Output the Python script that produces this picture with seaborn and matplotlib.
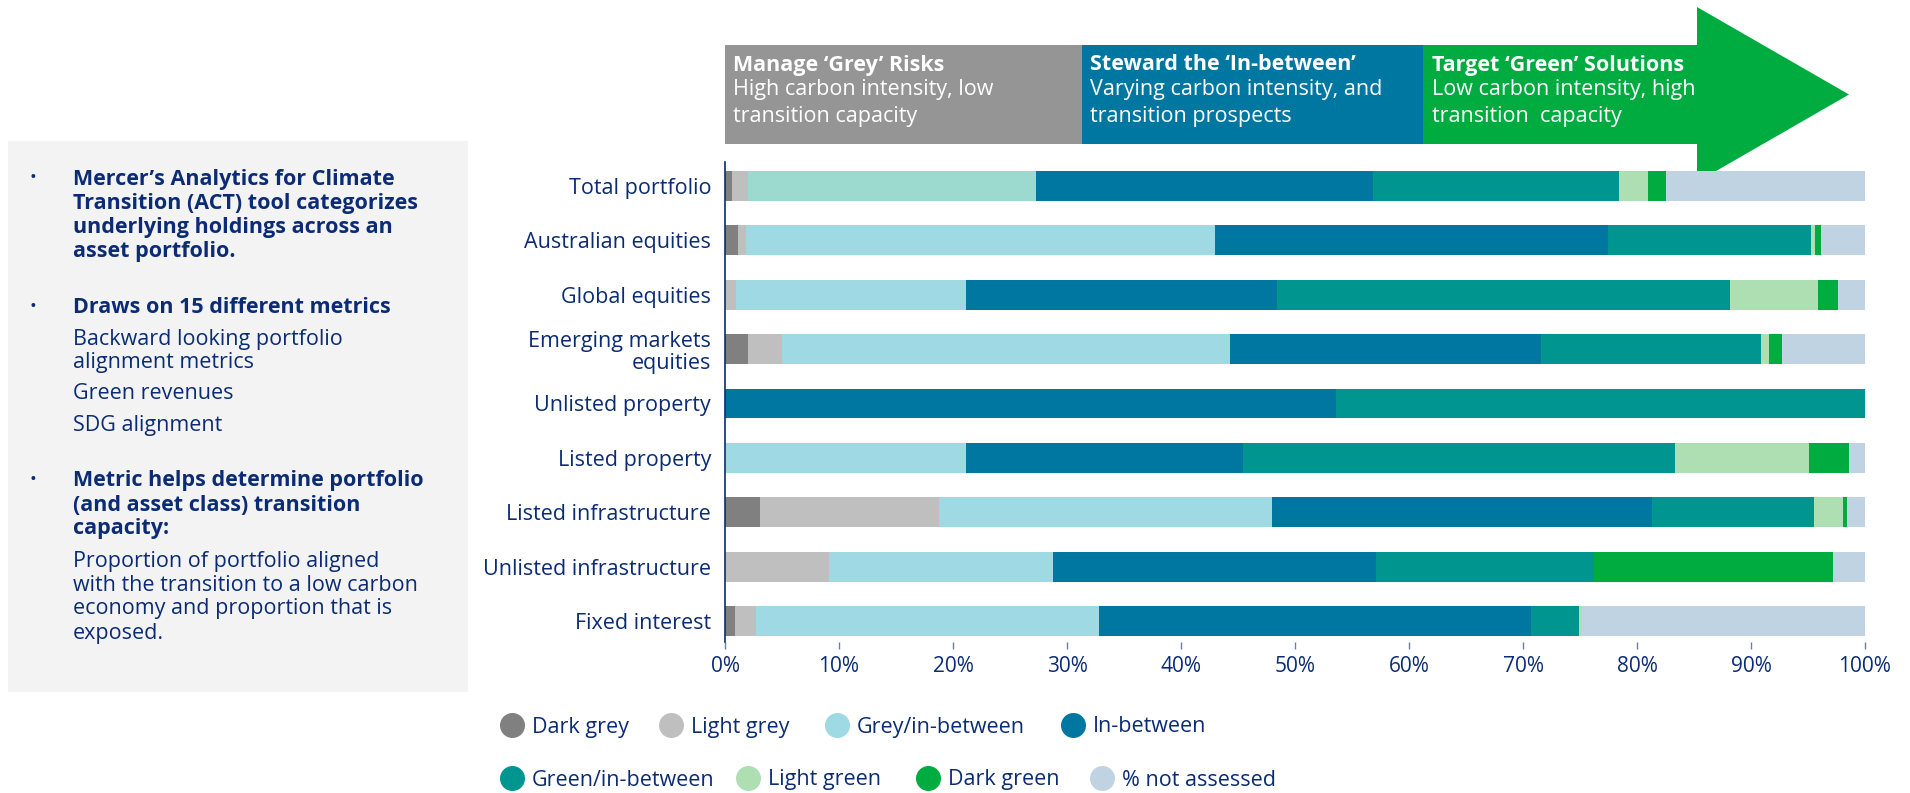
import numpy as np
import pandas as pd
import matplotlib
matplotlib.use("Agg")
import matplotlib.pyplot as plt
from matplotlib.patches import Rectangle, Polygon
from matplotlib.lines import Line2D
import seaborn as sns

plt.rcParams['font.family'] = ['Open Sans', 'DejaVu Sans']

# ---------------- data ----------------
categories = ["Total portfolio", "Australian equities", "Global equities",
              "Emerging markets\nequities", "Unlisted property", "Listed property",
              "Listed infrastructure", "Unlisted infrastructure", "Fixed interest"]
series_names = ["Dark grey", "Light grey", "Grey/in-between", "In-between",
                "Green/in-between", "Light green", "Dark green", "% not assessed"]
dark_grey     = [0.6, 1.1, 0.0, 2.0, 0.0, 0.0, 3.05, 0.0, 0.9]
light_grey    = [1.4, 0.7, 1.0, 3.0, 0.0, 0.0, 15.7, 9.1, 1.8]
grey_between  = [25.25, 41.2, 20.1, 39.3, 0.0, 21.1, 29.2, 19.65, 30.1]
in_between    = [29.55, 34.45, 27.3, 27.3, 53.6, 24.3, 33.4, 28.35, 37.9]
green_between = [21.6, 17.85, 39.75, 19.3, 46.4, 37.95, 14.2, 19.1, 4.2]
light_green   = [2.6, 0.3, 7.75, 0.7, 0.0, 11.75, 2.5, 0.0, 0.3]
dark_green    = [1.5, 0.5, 1.7, 1.1, 0.0, 3.5, 0.4, 21.0, 0.0]
not_assessed  = [17.5, 3.9, 2.4, 7.3, 0.0, 1.4, 1.55, 2.8, 24.8]
x_ticks = [0, 10, 20, 30, 40, 50, 60, 70, 80, 90, 100]
x_tick_labels = ["0%", "10%", "20%", "30%", "40%", "50%", "60%", "70%", "80%", "90%", "100%"]

series = [dark_grey, light_grey, grey_between, in_between,
          green_between, light_green, dark_green, not_assessed]
colors = ["#808080", "#bfbfbf", "#9fd9e4", "#0077a1",
          "#00958f", "#aedfb3", "#00ab40", "#bfd3e3"]
total_mint = "#9cdacf"
navy = "#0b2c74"
FS = 15.5

W, H = 1910, 793
def fx(x): return x / W
def fy(y): return 1 - y / H

fig = plt.figure(figsize=(W / 100, H / 100), dpi=100)
fig.patch.set_facecolor("white")

ax_l, ax_r, ax_t, ax_b = 725, 1865, 162, 642
ax = fig.add_axes([fx(ax_l), fy(ax_b), (ax_r - ax_l) / W, (ax_b - ax_t) / H])
ax.patch.set_facecolor("none")

df = pd.DataFrame(dict(zip(series_names, series)), index=categories)
cum = df.cumsum(axis=1)

for k in range(len(series_names) - 1, -1, -1):
    name = series_names[k]
    pal = [colors[k]] * len(categories)
    if name == "Grey/in-between":
        pal[0] = total_mint
    d = pd.DataFrame({"cat": categories, "val": cum[name].values})
    sns.barplot(data=d, x="val", y="cat", hue="cat", palette=pal, legend=False,
                orient="h", width=0.55, saturation=1, dodge=False,
                linewidth=0, ax=ax, zorder=2)

ax.set_xlim(0, 100)
ax.set_ylim(8 + (ax_b - 621) / 54.375, -(186 - ax_t) / 54.375)
ax.set_xlabel("")
ax.set_ylabel("")
ax.set_xticks(x_ticks)
ax.set_xticklabels(x_tick_labels)
for s in ["top", "right", "bottom"]:
    ax.spines[s].set_visible(False)
ax.spines["left"].set_color(navy)
ax.spines["left"].set_linewidth(1.2)
ax.tick_params(axis="x", length=5, width=1, color="#6b7ea8", labelcolor=navy,
               labelsize=FS - 0.5, pad=5)
ax.tick_params(axis="y", length=0, labelcolor=navy, labelsize=FS, pad=10)
for lab in ax.get_yticklabels():
    lab.set_multialignment("right")
    lab.set_linespacing(1.1)

# ---------------- header band ----------------
hdr_t, hdr_b = 45, 144
boxes = [(725, 1082, "#959595"), (1082, 1423, "#0077a1"), (1423, 1698, "#00ab40")]
for x0, x1, c in boxes:
    fig.add_artist(Rectangle((fx(x0), fy(hdr_b)), (x1 - x0) / W, (hdr_b - hdr_t) / H,
                             transform=fig.transFigure, facecolor=c, edgecolor="none",
                             zorder=-1))
fig.add_artist(Polygon([(fx(1697), fy(7)), (fx(1849), fy(94.5)), (fx(1697), fy(182))],
                       closed=True, transform=fig.transFigure, facecolor="#00ab40",
                       edgecolor="none", zorder=-1))
hdr_text = [
    (733, "Manage \u2018Grey\u2019 Risks", ["High carbon intensity, low", "transition capacity"]),
    (1090, "Steward the \u2018In-between\u2019", ["Varying carbon intensity, and", "transition prospects"]),
    (1432, "Target \u2018Green\u2019 Solutions", ["Low carbon intensity, high", "transition  capacity"]),
]
for x, title, lines in hdr_text:
    fig.text(fx(x), fy(65), title, color="white", fontsize=FS, fontweight="bold",
             ha="left", va="center")
    for i, ln in enumerate(lines):
        fig.text(fx(x), fy(90 + 26.5 * i), ln, color="white", fontsize=FS,
                 ha="left", va="center")

# ---------------- left text box ----------------
fig.add_artist(Rectangle((fx(8), fy(692)), (468 - 8) / W, (692 - 141) / H,
                         transform=fig.transFigure, facecolor="#f3f3f3",
                         edgecolor="none", zorder=-1))
left_lines = [
    (176.5, "Mercer\u2019s Analytics for Climate", True, True),
    (200.9, "Transition (ACT) tool categorizes", True, False),
    (225.3, "underlying holdings across an", True, False),
    (248.9, "asset portfolio.", True, False),
    (305.3, "Draws on 15 different metrics", True, True),
    (336.5, "Backward looking portfolio", False, False),
    (359.8, "alignment metrics", False, False),
    (391.1, "Green revenues", False, False),
    (422.7, "SDG alignment", False, False),
    (478.4, "Metric helps determine portfolio", True, True),
    (502.7, "(and asset class) transition", True, False),
    (526.4, "capacity:", True, False),
    (559.1, "Proportion of portfolio aligned", False, False),
    (582.7, "with the transition to a low carbon", False, False),
    (606.4, "economy and proportion that is", False, False),
    (631.1, "exposed.", False, False),
]
for y, txt, bold, bullet in left_lines:
    fig.text(fx(73), fy(y), txt, color=navy, fontsize=FS,
             fontweight="bold" if bold else "normal", ha="left", va="center_baseline")
    if bullet:
        fig.text(fx(29), fy(y), "\u2022", color=navy, fontsize=13,
                 ha="left", va="center_baseline")

# ---------------- legend (one entry per legend, placed like the reference) ----------------
em = FS * 100 / 72.0
legend_pos = [(512, 727), (671, 727), (837, 727), (1073, 727),
              (512, 780), (748, 780), (928, 780), (1102, 780)]
for (cx, cy), c, name in zip(legend_pos, colors, series_names):
    h = Line2D([], [], marker="o", linestyle="none", markersize=18,
               markerfacecolor=c, markeredgecolor="none")
    fig.legend([h], [name], loc="center left",
               bbox_to_anchor=(fx(cx - em / 2), fy(cy)), frameon=False,
               handlelength=1.0, handletextpad=(20 - em / 2) / em,
               borderpad=0, borderaxespad=0, fontsize=FS, labelcolor=navy)

fig.savefig("out.png", dpi=100)
